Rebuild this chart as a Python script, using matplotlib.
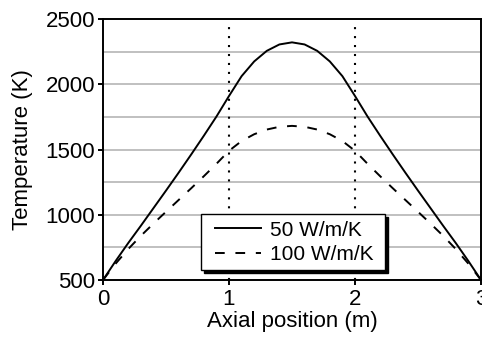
import matplotlib
matplotlib.use("Agg")
import matplotlib.pyplot as plt
from matplotlib.legend_handler import HandlerLine2D


POSITION = [0.0, 0.1, 0.2, 0.3, 0.4, 0.5, 0.6, 0.7, 0.8, 0.9, 1.0,
            1.1, 1.2, 1.3, 1.4, 1.5, 1.6, 1.7, 1.8, 1.9, 2.0,
            2.1, 2.2, 2.3, 2.4, 2.5, 2.6, 2.7, 2.8, 2.9, 3.0]

# temperature (K) for k = 50 W/m/K
TEMP_50 = [500, 645, 783, 915, 1050, 1185, 1322, 1462, 1605, 1752, 1910,
           2062, 2175, 2256, 2305, 2321, 2305, 2256, 2175, 2062, 1910,
           1752, 1605, 1462, 1322, 1185, 1050, 915, 783, 645, 500]

# temperature (K) for k = 100 W/m/K
TEMP_100 = [500, 625, 737, 838, 932, 1023, 1113, 1203, 1295, 1390, 1490,
            1565, 1617, 1653, 1674, 1681, 1674, 1653, 1617, 1565, 1490,
            1390, 1295, 1203, 1113, 1023, 932, 838, 737, 625, 500]

LABELS = ["50 W/m/K", "100 W/m/K"]
REGION_EDGES = [1, 2]
X_TICKS = [0, 1, 2, 3]
Y_TICKS = [500, 1000, 1500, 2000, 2500]
Y_GRID = [750, 1000, 1250, 1500, 1750, 2000, 2250]

FONT_SIZE = 16
LEGEND_SIZE = 15


def make_plot():
    plt.rcParams["font.family"] = ["Liberation Sans", "DejaVu Sans"]

    fig = plt.figure(figsize=(4.82, 3.37), dpi=100)
    ax = fig.add_axes([103 / 482, 1 - 280 / 337, 378 / 482, 261 / 337])

    for y in Y_GRID:
        ax.axhline(y, color="#c0c0c0", lw=1.4, zorder=0)

    for x in REGION_EDGES:
        ax.plot([x, x], [500, 2455], color="black", lw=1.5,
                linestyle=(0, (1, 3.3)), zorder=1)

    ax.plot(POSITION, TEMP_50, color="black", lw=1.4, label=LABELS[0], zorder=3)
    ax.plot(POSITION, TEMP_100, color="black", lw=1.4,
            linestyle=(0, (5, 5.5)), label=LABELS[1], zorder=3)

    ax.set_xlim(0, 3)
    ax.set_ylim(500, 2500)
    ax.set_xticks(X_TICKS)
    ax.set_yticks(Y_TICKS)
    ax.tick_params(direction="out", length=3.6, width=1.4,
                   labelsize=FONT_SIZE, pad=2)
    ax.tick_params(axis="x", pad=3)
    for spine in ax.spines.values():
        spine.set_linewidth(1.4)

    ax.set_xlabel("Axial position (m)", fontsize=FONT_SIZE, labelpad=0.5)
    ax.set_ylabel("Temperature (K)", fontsize=FONT_SIZE, labelpad=9)

    handler = HandlerLine2D(marker_pad=0.4, numpoints=2)
    leg = ax.legend(loc="lower left", bbox_to_anchor=(0.259, 0.038),
                    borderaxespad=0, fancybox=False, fontsize=LEGEND_SIZE,
                    handlelength=3.0, handletextpad=0.0, labelspacing=0.25,
                    borderpad=0.3,
                    handler_map={ax.lines[-1]: handler, ax.lines[-2]: handler},
                    shadow={"color": "black", "alpha": 1})
    for text in leg.get_texts():
        text.set_text(text.get_text() + " ")
    leg.get_frame().set_edgecolor("black")
    leg.get_frame().set_linewidth(1.0)
    leg.get_frame().set_alpha(1)

    fig.savefig("out.png", dpi=100)


if __name__ == "__main__":
    make_plot()
